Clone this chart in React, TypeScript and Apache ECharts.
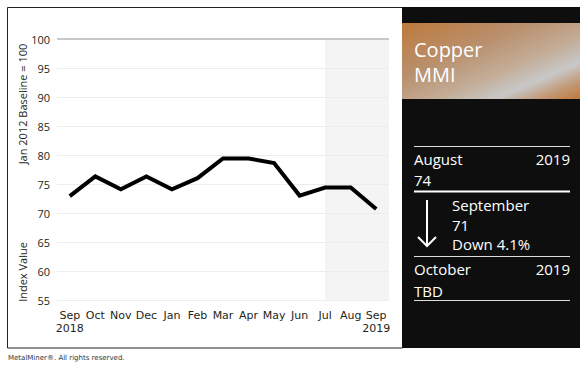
import React, { useEffect, useRef } from "react";
import * as echarts from "echarts";

// ---- data ----
const months = ["Sep\n2018", "Oct", "Nov", "Dec", "Jan", "Feb", "Mar", "Apr", "May", "Jun", "Jul", "Aug", "Sep\n2019"];
const indexValues = [72.9, 76.3, 74.1, 76.3, 74.1, 76.0, 79.4, 79.4, 78.6, 73.0, 74.4, 74.4, 70.7];
const yMin = 55;
const yMax = 100;
const yStep = 5;
const baselineValue = 100;
const shadeStartMonth = "Jul";
const yAxisTitleTop = "Jan 2012 Baseline = 100";
const yAxisTitleBottom = "Index Value";
const footerText = "MetalMiner\u00AE. All rights reserved.";
const panelTitle = ["Copper", "MMI"];
const prevMonth = ["August", "2019", "74"];
const currMonth = ["September", "71", "Down 4.1%"];
const nextMonth = ["October", "2019", "TBD"];

export default function App() {
  const ref = useRef<HTMLDivElement>(null);

  useEffect(() => {
    const chart = echarts.init(ref.current as HTMLDivElement, null, { renderer: "svg" });
    const W = 580;
    const gridLeft = 57;
    const gridRight = 191;
    const gridTop = 39;
    const gridBottom = 74;

    chart.setOption({
      animation: false,
      grid: { left: gridLeft, right: gridRight, top: gridTop, bottom: gridBottom, containLabel: false },
      xAxis: {
        type: "category",
        data: months,
        boundaryGap: true,
        axisLine: { show: false },
        axisTick: { show: false },
        axisLabel: {
          interval: 0,
          margin: 9,
          fontFamily: "DejaVu Sans",
          fontSize: 11,
          lineHeight: 13,
          color: "#231f20",
        },
        splitLine: { show: false },
      },
      yAxis: {
        type: "value",
        min: yMin,
        max: yMax,
        interval: yStep,
        axisLine: { show: false },
        axisTick: { show: false },
        axisLabel: {
          margin: 7,
          fontFamily: "Open Sans",
          fontSize: 11,
          color: "#231f20",
        },
        splitLine: { lineStyle: { color: "#ececec", width: 1 } },
      },
      series: [
        {
          type: "line",
          data: indexValues,
          symbol: "none",
          lineStyle: { color: "#000", width: 4, join: "miter" },
          z: 3,
          markLine: {
            silent: true,
            symbol: "none",
            label: { show: false },
            lineStyle: { color: "#c8c8c8", width: 2, type: "solid" },
            data: [{ yAxis: baselineValue }],
            z: 1,
          },
        },
      ],
    });

    const shadeX = chart.convertToPixel({ xAxisIndex: 0 }, shadeStartMonth) as number;
    const plotRight = W - gridRight;
    const plotBottom = 374 - gridBottom;

    const white = "#ffffff";
    const panelFont = "Open Sans";
    const gradient = new echarts.graphic.LinearGradient(0, 0, 1, 1, [
      { offset: 0, color: "#bd7a3c" },
      { offset: 0.35, color: "#b98f6c" },
      { offset: 0.6, color: "#c3ad98" },
      { offset: 0.76, color: "#c8c8c8" },
      { offset: 0.88, color: "#c29a78" },
      { offset: 1, color: "#c0783a" },
    ]);

    const txt = (text: string, x: number, y: number, size: number, align = "left", extra: any = {}) => ({
      type: "text",
      x,
      y,
      style: {
        text,
        fill: white,
        font: `${size}px "${panelFont}"`,
        align,
        verticalAlign: "middle",
        ...extra,
      },
    });

    chart.setOption({
      graphic: [
        {
          type: "rect",
          z: -10,
          shape: { x: 7.5, y: 7.5, width: 395, height: 340.5 },
          style: { fill: "#fff", stroke: "#222", lineWidth: 1 },
        },
        {
          type: "rect",
          z: -5,
          shape: { x: shadeX, y: gridTop, width: plotRight - shadeX, height: plotBottom - gridTop },
          style: { fill: "#f4f4f4" },
        },
        {
          type: "text",
          x: 22,
          y: 104,
          rotation: Math.PI / 2,
          style: {
            text: yAxisTitleTop,
            font: '11px "Open Sans"',
            fill: "#231f20",
            align: "center",
            verticalAlign: "middle",
          },
        },
        {
          type: "text",
          x: 22,
          y: 272,
          rotation: Math.PI / 2,
          style: {
            text: yAxisTitleBottom,
            font: '11px "Open Sans"',
            fill: "#231f20",
            align: "center",
            verticalAlign: "middle",
          },
        },
        {
          type: "text",
          x: 8,
          y: 358,
          style: {
            text: footerText,
            font: '7px "DejaVu Sans"',
            fill: "#333",
            align: "left",
            verticalAlign: "middle",
          },
        },
        // right panel
        {
          type: "rect",
          shape: { x: 402, y: 7, width: 178, height: 341 },
          style: { fill: "#0e0e0e" },
        },
        {
          type: "rect",
          shape: { x: 402, y: 23, width: 178, height: 76 },
          style: { fill: gradient },
        },
        txt(panelTitle[0], 414, 49, 20),
        txt(panelTitle[1], 414, 74, 20),
        { type: "line", shape: { x1: 414, y1: 146.5, x2: 570, y2: 146.5 }, style: { stroke: "#dddddd", lineWidth: 1 } },
        txt(prevMonth[0], 414, 159, 15),
        txt(prevMonth[1], 570, 159, 15, "right"),
        txt(prevMonth[2], 414, 180, 15),
        { type: "line", shape: { x1: 414, y1: 191.5, x2: 570, y2: 191.5 }, style: { stroke: "#ffffff", lineWidth: 2 } },
        { type: "line", shape: { x1: 427, y1: 200, x2: 427, y2: 246 }, style: { stroke: "#ffffff", lineWidth: 2 } },
        { type: "polyline", shape: { points: [[418, 237], [427, 246], [436, 237]] }, style: { stroke: "#ffffff", lineWidth: 2, fill: "none" } },
        txt(currMonth[0], 452, 205, 15),
        txt(currMonth[1], 452, 225, 15),
        txt(currMonth[2], 452, 244, 15),
        { type: "line", shape: { x1: 414, y1: 256.5, x2: 570, y2: 256.5 }, style: { stroke: "#dddddd", lineWidth: 1 } },
        txt(nextMonth[0], 414, 269, 15),
        txt(nextMonth[1], 570, 269, 15, "right"),
        txt(nextMonth[2], 414, 291, 15),
        { type: "line", shape: { x1: 414, y1: 300.5, x2: 570, y2: 300.5 }, style: { stroke: "#dddddd", lineWidth: 1 } },
      ],
    });

    return () => chart.dispose();
  }, []);

  return (
    <div
      ref={ref}
      style={{ position: "fixed", left: 0, top: 0, width: 580, height: 374, background: "#fff" }}
    />
  );
}
